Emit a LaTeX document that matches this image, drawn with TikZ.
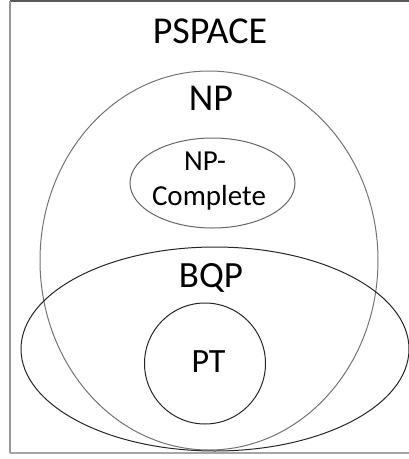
\documentclass[tikz,border=0pt]{standalone}
\usepackage{fontspec}
\setmainfont{Carlito}
\begin{document}
\begin{tikzpicture}[x=1pt,y=-1pt,
  lbl/.style={inner sep=0pt,anchor=base,text=black},
  setline/.style={line width=1pt}]
\useasboundingbox (0,0) rectangle (409,459);
% frame
\coordinate (tl) at (10,1);
\coordinate (tr) at (412,1);
\coordinate (bl) at (10,453);
\coordinate (br) at (412,453);
\draw[line width=1.6pt,color=black!65] (tl) -- (tr);
\draw[line width=1.6pt,color=black!40] (tl) -- (bl);
\draw[line width=1.6pt,color=black!35] (bl) -- (br);
% sets
\draw[setline,color=black!55] (209,260.5) ellipse [x radius=169pt, y radius=189.5pt];
\draw[setline,color=black!60] (212.5,183) ellipse [x radius=82.5pt, y radius=45pt];
\draw[setline,color=black!85] (215,349) ellipse [x radius=194pt, y radius=102pt];
\draw[setline,color=black!85] (205,363.5) circle [radius=60.5pt];
% labels
\node[lbl,font=\fontsize{38}{46}\selectfont] (pspace) at (210,43) {PSPACE};
\node[lbl,font=\fontsize{38}{46}\selectfont] (np) at (211,110) {NP};
\node[lbl,font=\fontsize{29}{35}\selectfont] (npc1) at (205,170) {NP-};
\node[lbl,font=\fontsize{29}{35}\selectfont] (npc2) at (209,205) {Complete};
\node[lbl,font=\fontsize{37}{44}\selectfont] (bqp) at (211,287) {BQP};
\node[lbl,font=\fontsize{34}{41}\selectfont] (pt) at (208.5,372) {PT};
\end{tikzpicture}
\end{document}
